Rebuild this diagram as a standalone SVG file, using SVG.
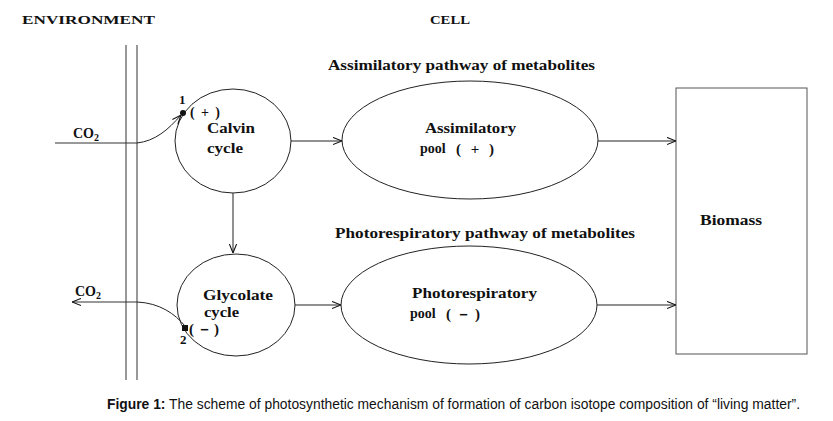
<svg xmlns="http://www.w3.org/2000/svg" width="833" height="421" viewBox="0 0 833 421">
<defs>
<style>
.t{font-family:"Liberation Serif","Times New Roman",serif;font-weight:bold;fill:#111}
.s{fill:none;stroke:#222;stroke-width:1}
.l{fill:none;stroke:#333;stroke-width:1}
.cap{font-family:"Liberation Sans",Arial,sans-serif;font-size:14px;fill:#111}
</style>
<marker id="ah" viewBox="0 0 10 10" refX="10" refY="5" markerWidth="9" markerHeight="9" orient="auto" markerUnits="userSpaceOnUse">
<path d="M0,1 L10,5 L0,9" fill="none" stroke="#111" stroke-width="1.2"/>
</marker>
</defs>
<rect width="833" height="421" fill="#fff"/>
<text class="t" x="22" y="24" font-size="13" textLength="133" lengthAdjust="spacingAndGlyphs">ENVIRONMENT</text>
<text class="t" x="430" y="24" font-size="13" textLength="40" lengthAdjust="spacingAndGlyphs">CELL</text>
<g id="membrane">
<line class="l" x1="126" y1="45" x2="126" y2="380"/>
<line class="l" x1="137" y1="45" x2="137" y2="380"/>
</g>
<text class="t" x="328" y="70" font-size="14" textLength="267" lengthAdjust="spacingAndGlyphs">Assimilatory pathway of metabolites</text>
<text class="t" x="335" y="238" font-size="14" textLength="300" lengthAdjust="spacingAndGlyphs">Photorespiratory pathway of metabolites</text>
<g id="calvin">
<ellipse class="s" cx="233" cy="141" rx="58" ry="52"/>
<text class="t" x="207" y="133" font-size="14" textLength="48" lengthAdjust="spacingAndGlyphs">Calvin</text>
<text class="t" x="207" y="153" font-size="14" textLength="36" lengthAdjust="spacingAndGlyphs">cycle</text>
</g>
<g id="glycolate">
<ellipse class="s" cx="236" cy="305" rx="59" ry="51"/>
<text class="t" x="203" y="300" font-size="14" textLength="70" lengthAdjust="spacingAndGlyphs">Glycolate</text>
<text class="t" x="204" y="317" font-size="14" textLength="35" lengthAdjust="spacingAndGlyphs">cycle</text>
</g>
<g id="assimilatory">
<ellipse class="s" cx="470" cy="140" rx="128" ry="59"/>
<text class="t" x="425" y="133" font-size="14" textLength="91" lengthAdjust="spacingAndGlyphs">Assimilatory</text>
<text class="t" x="420" y="153" font-size="14">pool</text>
<text class="t" x="456" y="154" font-size="15" font-weight="normal" textLength="38" lengthAdjust="spacing">( + )</text>
</g>
<g id="photorespiratory">
<ellipse class="s" cx="469" cy="305" rx="128" ry="59"/>
<text class="t" x="412" y="298" font-size="14" textLength="125" lengthAdjust="spacingAndGlyphs">Photorespiratory</text>
<text class="t" x="410" y="318" font-size="14">pool</text>
<text class="t" x="446" y="319" font-size="15" textLength="34" lengthAdjust="spacing">(－)</text>
</g>
<g id="biomass">
<rect x="676" y="88" width="131" height="266" fill="none" stroke="#555" stroke-width="1"/>
<text class="t" x="700" y="225" font-size="14" textLength="62" lengthAdjust="spacingAndGlyphs">Biomass</text>
</g>
<g id="co2-in">
<text class="t" x="73" y="138" font-size="14">CO<tspan font-size="10" dy="3">2</tspan></text>
<circle cx="183" cy="113" r="3" fill="#111"/>
<text class="t" x="179" y="104" font-size="13">1</text>
<text class="t" x="190" y="117" font-size="14" font-weight="normal" textLength="30" lengthAdjust="spacing">( + )</text>
</g>
<g id="co2-out">
<text class="t" x="75" y="296" font-size="14">CO<tspan font-size="10" dy="3">2</tspan></text>
<rect x="182" y="325" width="6" height="6" fill="#111"/>
<text class="t" x="180" y="344" font-size="13">2</text>
<text class="t" x="189" y="334" font-size="15" textLength="30" lengthAdjust="spacing">(－)</text>
</g>
<g id="connectors">
<line class="l" x1="55" y1="143" x2="137" y2="143"/>
<path class="s" d="M137,143 C155,141 168,130 181,115" marker-end="url(#ah)"/>
<line class="l" x1="137" y1="302" x2="72" y2="302" marker-end="url(#ah)"/>
<path class="s" d="M137,302 C160,303 175,314 185,326"/>
<line class="s" x1="233" y1="193" x2="233" y2="253" marker-end="url(#ah)"/>
<line class="s" x1="291" y1="141" x2="342" y2="141" marker-end="url(#ah)"/>
<line class="s" x1="598" y1="141" x2="676" y2="141" marker-end="url(#ah)"/>
<line class="s" x1="295" y1="305" x2="341" y2="305" marker-end="url(#ah)"/>
<line class="s" x1="597" y1="305" x2="676" y2="305" marker-end="url(#ah)"/>
</g>
<text class="cap" x="107" y="409" textLength="693" lengthAdjust="spacingAndGlyphs"><tspan font-weight="bold">Figure 1:</tspan> The scheme of photosynthetic mechanism of formation of carbon isotope composition of “living matter”.</text>
</svg>
